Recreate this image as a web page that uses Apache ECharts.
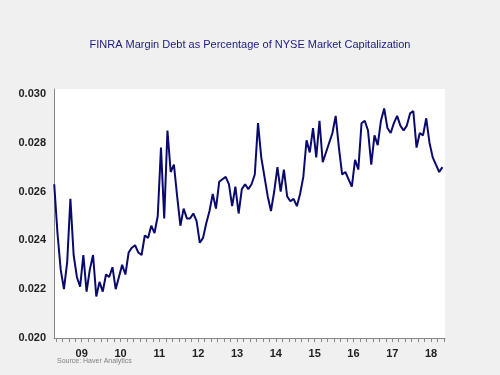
<!DOCTYPE html>
<html>
<head>
<meta charset="utf-8">
<script src="https://cdn.jsdelivr.net/npm/echarts@6/dist/echarts.min.js"></script>
<style>
html,body{margin:0;padding:0;background:#f0f0f0;}
#c{width:500px;height:375px;}
</style>
</head>
<body>
<div id="c"></div>
<script>
// Monthly observations, Oct 2008 .. Oct 2018
const startYear = 2008, startMonth = 10;
const marginRatio = [
  0.0263,0.0243,0.0228,0.0220,0.0231,0.0257,0.0234,0.0225,0.0221,0.0234,
  0.0219,0.0228,0.0234,0.0217,0.0223,0.0219,0.0226,0.0225,0.0229,0.0220,
  0.0225,0.0230,0.0226,0.0235,0.0237,0.0238,0.0235,0.0234,0.0242,0.0241,
  0.0246,0.0243,0.0250,0.0278,0.0249,0.0285,0.0268,0.0271,0.0258,0.0246,
  0.0253,0.0249,0.0249,0.0251,0.0248,0.0239,0.0241,0.0247,0.0252,0.0259,
  0.0253,0.0264,0.0265,0.0266,0.0263,0.0254,0.0262,0.0251,0.0261,0.0263,
  0.0261,0.0263,0.0267,0.0288,0.0274,0.0266,0.0258,0.0252,0.0260,0.0270,
  0.0260,0.0269,0.0258,0.0256,0.0257,0.0254,0.0259,0.0266,0.0281,0.0276,
  0.0286,0.0274,0.0289,0.0272,0.0276,0.0280,0.0284,0.0291,0.0278,0.0267,
  0.0268,0.0265,0.0262,0.0273,0.0269,0.0288,0.0289,0.0285,0.0271,0.0283,
  0.0279,0.0289,0.0294,0.0286,0.0284,0.0288,0.0291,0.0287,0.0285,0.0287,
  0.0292,0.0293,0.0278,0.0284,0.0283,0.0290,0.0280,0.0274,0.0271,0.0268,
  0.0270
];
const yearLabels = ['09','10','11','12','13','14','15','16','17','18'];
const yTicks = [0.020,0.022,0.024,0.026,0.028,0.030];

// x value = months since Jan 2009, plotted at mid-month
const offset = (startYear - 2009) * 12 + (startMonth - 1);
const seriesData = marginRatio.map((v, i) => [offset + i + 0.5, v]);
const labelPos = yearLabels.map((s, i) => i * 12 + 6);
const labelMap = {};
labelPos.forEach((p, i) => labelMap[p] = yearLabels[i]);
const tickPos = [];
for (let m = -2; m <= 118; m += 2) tickPos.push(m);

const font = 'Liberation Sans, Arial, sans-serif';
const chart = echarts.init(document.getElementById('c'), null, {renderer: 'canvas'});
chart.setOption({
  backgroundColor: '#f0f0f0',
  animation: false,
  title: {
    text: 'FINRA Margin Debt as Percentage of NYSE Market Capitalization',
    left: 'center', top: 34,
    textStyle: {fontFamily: font, fontSize: 11, fontWeight: 'normal', color: '#1a1a80'}
  },
  graphic: [{
    type: 'text', left: 57, top: 358,
    style: {text: 'Source: Haver Analytics', fontFamily: font, fontSize: 7, fill: '#808080'}
  }],
  grid: {left: 54, top: 89, width: 391, height: 249, show: true, backgroundColor: '#ffffff', borderWidth: 0},
  xAxis: {
    type: 'value', min: -2.57, max: 118.3,
    splitLine: {show: false},
    axisLine: {show: true, onZero: false, lineStyle: {color: '#888888', width: 1}},
    axisTick: {show: true, customValues: tickPos, length: 4, lineStyle: {color: '#888888'}},
    axisLabel: {
      customValues: labelPos, margin: 10,
      formatter: v => labelMap[Math.round(v)] || '',
      fontFamily: font, fontSize: 11, fontWeight: 'bold', color: '#222222'
    }
  },
  yAxis: {
    type: 'value', min: 0.020, max: 0.0302, interval: 0.002,
    splitLine: {show: false},
    axisLine: {show: true, onZero: false, lineStyle: {color: '#888888', width: 1}},
    axisTick: {show: false},
    axisLabel: {
      customValues: yTicks, margin: 8,
      formatter: v => v.toFixed(3),
      fontFamily: font, fontSize: 11, fontWeight: 'bold', color: '#222222'
    }
  },
  series: [{
    type: 'line', data: seriesData, showSymbol: false,
    lineStyle: {color: '#0a0a6e', width: 2}, z: 3
  }]
});
</script>
</body>
</html>
